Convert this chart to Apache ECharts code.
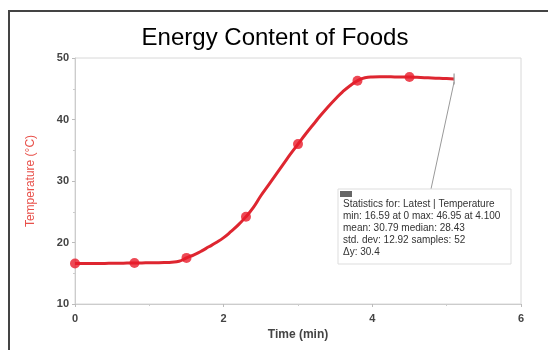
<!DOCTYPE html>
<html><head><meta charset="utf-8">
<script src="https://cdn.jsdelivr.net/npm/echarts@6/dist/echarts.min.js"></script>
<style>html,body{margin:0;padding:0;background:#fff}#c{width:548px;height:350px}</style>
</head><body><div id="c"></div>
<script>
const times = [0,0.1,0.2,0.3,0.4,0.5,0.6,0.7,0.8,0.9,1.0,1.1,1.2,1.3,1.4,1.5,1.6,1.7,1.8,1.9,2.0,2.1,2.2,2.3,2.4,2.5,2.6,2.7,2.8,2.9,3.0,3.1,3.2,3.3,3.4,3.5,3.6,3.7,3.8,3.9,4.0,4.1,4.2,4.3,4.4,4.5,4.6,4.7,4.8,4.9,5.0,5.1];
const temps = [16.59,16.6,16.6,16.6,16.6,16.62,16.63,16.65,16.66,16.68,16.7,16.72,16.75,16.8,16.95,17.5,18.0,18.6,19.3,20.0,20.8,21.8,22.9,24.2,25.7,27.6,29.3,31.0,32.7,34.4,36.0,37.6,39.1,40.6,42.0,43.3,44.5,45.5,46.3,46.8,46.93,46.95,46.94,46.93,46.92,46.9,46.85,46.8,46.75,46.7,46.65,46.6];
const markerTimes = [0,0.8,1.5,2.3,3.0,3.8,4.5];
const markerTemps = [16.59,16.66,17.5,24.2,36.0,46.3,46.9];
const xTicks = [0,2,4,6];
const yTicks = [10,20,30,40,50];
const statsLines = [
  'Statistics for: Latest | Temperature',
  'min: 16.59 at 0 max: 46.95 at 4.100',
  'mean: 30.79 median: 28.43',
  'std. dev: 12.92 samples: 52',
  'Δy: 30.4'
];
const chart = echarts.init(document.getElementById('c'));
const lineData = times.map((t,i)=>[t,temps[i]]);
const markData = markerTimes.map((t,i)=>[t,markerTemps[i]]);
const lastPt = lineData[lineData.length-1];
const lbl = {color:'#444', fontSize:11, fontWeight:'bold', fontFamily:'Liberation Sans, Arial'};
chart.setOption({
  animation:false,
  title:{text:'Energy Content of Foods', left:270, top:21, textAlign:'center',
    textStyle:{fontSize:24, fontWeight:'normal', color:'#000', fontFamily:'Liberation Sans, Arial'}},
  grid:{left:75, right:27, top:58, bottom:46, show:true, borderColor:'#d8d8d8', borderWidth:1},
  xAxis:{type:'value', min:0, max:6, interval:2,
    name:'Time (min)', nameLocation:'middle', nameGap:24,
    nameTextStyle:Object.assign({}, lbl, {fontSize:12}),
    axisLine:{show:true, lineStyle:{color:'#ccc'}},
    axisTick:{show:true, length:3, lineStyle:{color:'#bbb'}},
    minorTick:{show:true, splitNumber:2, length:2, lineStyle:{color:'#ccc'}},
    splitLine:{show:false},
    axisLabel:Object.assign({}, lbl, {margin:9, formatter:v=>xTicks.includes(v)?String(v):''})},
  yAxis:{type:'value', min:10, max:50, interval:10,
    name:'Temperature (°C)', nameLocation:'middle', nameGap:38, nameRotate:90,
    nameTextStyle:{color:'#e8504a', fontSize:12, fontFamily:'Liberation Sans, Arial'},
    axisLine:{show:true, lineStyle:{color:'#ccc'}},
    axisTick:{show:true, length:3, lineStyle:{color:'#bbb'}},
    minorTick:{show:true, splitNumber:2, length:2, lineStyle:{color:'#ccc'}},
    splitLine:{show:false},
    axisLabel:Object.assign({}, lbl, {margin:6, formatter:v=>yTicks.includes(v)?String(v):''})},
  series:[
    {type:'line', data:lineData, smooth:true, showSymbol:false, clip:false,
      lineStyle:{color:'#de2630', width:3}, z:2},
    {type:'scatter', data:markData, symbolSize:10, clip:false,
      itemStyle:{color:'#e81c2a'}, z:3},
    {type:'scatter', data:[lastPt], symbol:'rect', symbolSize:[1.5,11],
      itemStyle:{color:'#999'}, z:4}
  ]
});
const endPx = chart.convertToPixel({gridIndex:0}, lastPt);
const boxX = 338, boxY = 189, boxW = 173, boxH = 75;
const g = [
  {type:'rect', shape:{x:9, y:11, width:600, height:400}, style:{fill:'none', stroke:'#444', lineWidth:2}, silent:true},
  {type:'line', shape:{x1:431, y1:boxY, x2:endPx[0], y2:endPx[1]+3}, style:{stroke:'#999', lineWidth:1}},
  {type:'rect', shape:{x:boxX, y:boxY, width:boxW, height:boxH}, style:{fill:'#fff', stroke:'#ddd', lineWidth:1}},
  {type:'rect', shape:{x:boxX+2, y:boxY+2, width:12, height:6}, style:{fill:'#666'}}
];
statsLines.forEach((s,i)=>{
  g.push({type:'text', x:boxX+5, y:boxY+15+i*12, style:{text:s, fill:'#333', fontSize:10, fontFamily:'Liberation Sans, Arial', verticalAlign:'middle'}});
});
chart.setOption({graphic:g});
</script></body></html>
